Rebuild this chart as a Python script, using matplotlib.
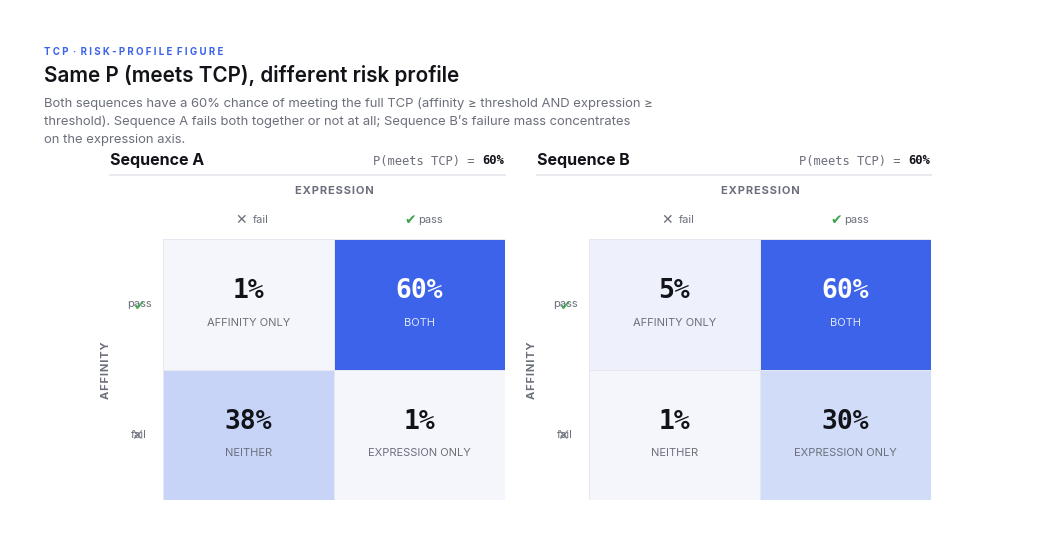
import matplotlib

matplotlib.use("Agg")
import matplotlib.pyplot as plt
import numpy as np
from matplotlib.colors import BoundaryNorm, ListedColormap

W, H = 1040, 544

# data: rows = affinity (pass, fail), cols = expression (fail, pass)
sequences = ["Sequence A", "Sequence B"]
p_meets = [60, 60]
seq_a = [[1, 60], [38, 1]]
seq_b = [[5, 60], [1, 30]]
cell_names = [["AFFINITY ONLY", "BOTH"], ["NEITHER", "EXPRESSION ONLY"]]
col_labels = ["fail", "pass"]
row_labels = ["pass", "fail"]

BLUE = "#3d63ea"
GRAY = "#6b6f7b"
DARK = "#111318"
GREEN = "#3fa34d"

# shade buckets by probability mass
cmap = ListedColormap(["#f5f6fb", "#eef1fb", "#d0dcf8", "#c7d4f7", BLUE])
norm = BoundaryNorm([0, 3, 10, 34, 45, 101], cmap.N)

plt.rcParams["font.family"] = ["Inter", "DejaVu Sans"]
fig = plt.figure(figsize=(W / 100, H / 100), dpi=100)


def px(x, y):
    return x / W, 1 - y / H


def ftext(x, y, s, **kw):
    fx, fy = px(x, y)
    return fig.text(fx, fy, s, **kw)


def spaced(s, sep="\u200a"):
    return sep.join(s)


ftext(44, 52, "T C P  ·  R I S K - P R O F I L E  F I G U R E",
      color=BLUE, fontsize=7.0, fontweight="bold", va="center", ha="left")
ftext(44, 76, "Same P (meets TCP), different risk profile",
      color=DARK, fontsize=14.9, fontweight="semibold", va="center", ha="left")
subtitle = [
    "Both sequences have a 60% chance of meeting the full TCP (affinity \u2265 threshold AND expression \u2265",
    "threshold). Sequence A fails both together or not at all; Sequence B\u2019s failure mass concentrates",
    "on the expression axis.",
]
for i, line in enumerate(subtitle):
    ftext(44, 104 + 18 * i, line, color=GRAY, fontsize=9.4, va="center", ha="left")

panels = [(110, 163, 505, seq_a), (537, 589, 931, seq_b)]
y_top, y_bot = 239, 500
mono_px = 8.7 * 100 / 72 * 0.602

for k, (hx, gx0, gx1, vals) in enumerate(panels):
    ftext(hx, 160, sequences[k], color=DARK, fontsize=11.5, fontweight="bold",
          va="center", ha="left")
    pct = f"{p_meets[k]}%"
    ftext(gx1 - 1, 161, pct, family="DejaVu Sans Mono",
          fontsize=8.7, color=DARK, fontweight="bold", ha="right", va="center")
    ftext(gx1 - 1 - mono_px * len(pct), 161, "P(meets TCP) = ", family="DejaVu Sans Mono",
          fontsize=8.7, color=GRAY, ha="right", va="center")
    lx0, ly = px(hx, 175)
    lx1, _ = px(gx1, 175)
    fig.add_artist(plt.Line2D([lx0, lx1], [ly, ly], color="#e8eaf0", lw=1.5))

    xm = (gx0 + gx1) / 2
    ftext(xm, 191, spaced("EXPRESSION"), color=GRAY, fontsize=8, fontweight="bold",
          ha="center", va="center")
    ftext(gx0 - 57, 370, spaced("AFFINITY"), color=GRAY, fontsize=8, fontweight="bold",
          ha="center", va="center", rotation=90)

    cw = (gx1 - gx0) / 2
    for j, lab in enumerate(col_labels):
        cx = gx0 + cw * (j + 0.5)
        if lab == "fail":
            ftext(cx - 7, 220, "\u2715", color=GRAY, fontsize=10, fontweight="bold",
                  family="DejaVu Sans", ha="center", va="center")
            ftext(cx + 4, 220, lab, color=GRAY, fontsize=8, ha="left", va="center")
        else:
            ftext(cx - 9, 220, "\u2714", color=GREEN, fontsize=10,
                  family="DejaVu Sans", ha="center", va="center")
            ftext(cx - 1, 220, lab, color=GRAY, fontsize=8, ha="left", va="center")

    rh = (y_bot - y_top) / 2
    for i, lab in enumerate(row_labels):
        cy = y_top + rh * (i + 0.5)
        ftext(gx0 - 24, cy, lab, color=GRAY, fontsize=8, ha="center", va="center")
        if lab == "pass":
            ftext(gx0 - 24, cy + 2, "\u2714", color=GREEN, fontsize=9.5, alpha=0.9,
                  family="DejaVu Sans", ha="center", va="center")
        else:
            ftext(gx0 - 26, cy + 1, "\u2715", color=GRAY, fontsize=10, fontweight="bold",
                  alpha=0.85, family="DejaVu Sans", ha="center", va="center")

    ax0, ay0 = px(gx0, y_bot)
    ax = fig.add_axes([ax0, ay0, (gx1 - gx0) / W, (y_bot - y_top) / H])
    arr = np.array(vals, dtype=float)
    ax.pcolormesh(np.arange(3), np.arange(3), arr, cmap=cmap, norm=norm,
                  edgecolors="#e6e8f0", linewidth=0.6)
    ax.set_xlim(0, 2)
    ax.set_ylim(2, 0)
    ax.set_axis_off()
    for r in range(2):
        for c in range(2):
            v = vals[r][c]
            strong = v >= 50
            ax.text(c + 0.5, r + 0.40, f"{v}%", family="DejaVu Sans Mono",
                    fontsize=19, fontweight="bold",
                    color="white" if strong else DARK, ha="center", va="center")
            ax.text(c + 0.5, r + 0.64, cell_names[r][c], fontsize=8,
                    color="#dfe6fc" if strong else GRAY, ha="center", va="center")

fig.savefig("out.png", dpi=100, facecolor="white")
